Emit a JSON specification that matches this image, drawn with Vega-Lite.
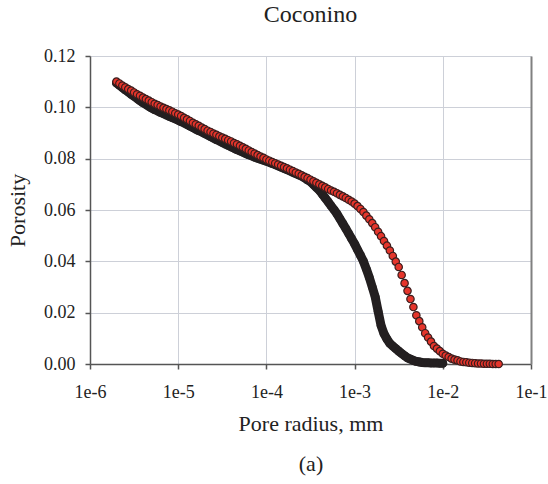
{
"$schema":"https://vega.github.io/schema/vega-lite/v6.json",
"autosize":"none",
"width":441,"height":308,
"padding":{"left":90,"top":56,"right":17,"bottom":120},
"background":"white",
"title":{"text":"Coconino","font":"Liberation Serif","fontSize":24,"fontWeight":"normal","color":"#222222","anchor":"middle","baseline":"alphabetic","offset":1},
"config":{"view":{"stroke":null},
"axis":{"labelFont":"Liberation Serif","labelFontSize":18,"labelColor":"#222222","titleFont":"Liberation Serif","titleFontSize":22,"titleFontWeight":"normal","titleColor":"#222222","domainColor":"#555555","domainWidth":1.5,"tickColor":"#555555","tickWidth":1.5,"tickSize":5,"gridColor":"#cdd0d8","gridWidth":1}},
"data":{"values":[
{"r":1.995e-6,"a":0.1095,"b":0.1100},{"r":2.154e-6,"a":0.1086,"b":0.1093},{"r":2.326e-6,"a":0.1077,"b":0.1085},{"r":2.512e-6,"a":0.1068,"b":0.1078},{"r":2.712e-6,"a":0.1060,"b":0.1071},{"r":2.929e-6,"a":0.1051,"b":0.1065},{"r":3.162e-6,"a":0.1043,"b":0.1058},{"r":3.415e-6,"a":0.1035,"b":0.1051},{"r":3.687e-6,"a":0.1026,"b":0.1045},{"r":3.981e-6,"a":0.1018,"b":0.1038},{"r":4.299e-6,"a":0.1011,"b":0.1032},{"r":4.642e-6,"a":0.1004,"b":0.1026},{"r":5.012e-6,"a":0.0997,"b":0.1020},{"r":5.412e-6,"a":0.0991,"b":0.1014},{"r":5.843e-6,"a":0.0986,"b":0.1009},{"r":6.310e-6,"a":0.0980,"b":0.1003},{"r":6.813e-6,"a":0.0975,"b":0.0998},{"r":7.356e-6,"a":0.0970,"b":0.0993},{"r":7.943e-6,"a":0.0965,"b":0.0988},{"r":8.577e-6,"a":0.0960,"b":0.0983},{"r":9.261e-6,"a":0.0955,"b":0.0977},
{"r":1.000e-5,"a":0.0950,"b":0.0972},{"r":1.080e-5,"a":0.0944,"b":0.0966},{"r":1.166e-5,"a":0.0939,"b":0.0959},{"r":1.259e-5,"a":0.0933,"b":0.0953},{"r":1.359e-5,"a":0.0927,"b":0.0947},{"r":1.468e-5,"a":0.0921,"b":0.0940},{"r":1.585e-5,"a":0.0915,"b":0.0934},{"r":1.711e-5,"a":0.0909,"b":0.0928},{"r":1.848e-5,"a":0.0904,"b":0.0921},{"r":1.995e-5,"a":0.0898,"b":0.0915},{"r":2.154e-5,"a":0.0892,"b":0.0909},{"r":2.326e-5,"a":0.0886,"b":0.0904},{"r":2.512e-5,"a":0.0880,"b":0.0898},{"r":2.712e-5,"a":0.0874,"b":0.0893},{"r":2.929e-5,"a":0.0869,"b":0.0887},{"r":3.162e-5,"a":0.0863,"b":0.0882},{"r":3.415e-5,"a":0.0857,"b":0.0877},{"r":3.687e-5,"a":0.0852,"b":0.0872},{"r":3.981e-5,"a":0.0846,"b":0.0867},{"r":4.299e-5,"a":0.0841,"b":0.0861},{"r":4.642e-5,"a":0.0835,"b":0.0856},{"r":5.012e-5,"a":0.0830,"b":0.0850},{"r":5.412e-5,"a":0.0825,"b":0.0844},{"r":5.843e-5,"a":0.0820,"b":0.0838},{"r":6.310e-5,"a":0.0815,"b":0.0832},{"r":6.813e-5,"a":0.0811,"b":0.0826},{"r":7.356e-5,"a":0.0806,"b":0.0820},{"r":7.943e-5,"a":0.0802,"b":0.0814},{"r":8.577e-5,"a":0.0798,"b":0.0808},{"r":9.261e-5,"a":0.0794,"b":0.0803},
{"r":1.000e-4,"a":0.0790,"b":0.0797},{"r":1.080e-4,"a":0.0786,"b":0.0792},{"r":1.166e-4,"a":0.0781,"b":0.0787},{"r":1.259e-4,"a":0.0777,"b":0.0782},{"r":1.359e-4,"a":0.0772,"b":0.0777},{"r":1.468e-4,"a":0.0767,"b":0.0772},{"r":1.585e-4,"a":0.0762,"b":0.0767},{"r":1.711e-4,"a":0.0757,"b":0.0762},{"r":1.848e-4,"a":0.0752,"b":0.0757},{"r":1.995e-4,"a":0.0747,"b":0.0752},{"r":2.154e-4,"a":0.0742,"b":0.0746},{"r":2.326e-4,"a":0.0737,"b":0.0741},{"r":2.512e-4,"a":0.0732,"b":0.0735},{"r":2.712e-4,"a":0.0725,"b":0.0729},{"r":2.929e-4,"a":0.0717,"b":0.0724},{"r":3.162e-4,"a":0.0710,"b":0.0718},{"r":3.415e-4,"a":0.0699,"b":0.0712},{"r":3.687e-4,"a":0.0688,"b":0.0706},{"r":3.981e-4,"a":0.0677,"b":0.0700},{"r":4.299e-4,"a":0.0662,"b":0.0694},{"r":4.642e-4,"a":0.0647,"b":0.0688},{"r":5.012e-4,"a":0.0632,"b":0.0682},{"r":5.412e-4,"a":0.0616,"b":0.0676},{"r":5.843e-4,"a":0.0601,"b":0.0671},{"r":6.310e-4,"a":0.0585,"b":0.0665},{"r":6.813e-4,"a":0.0566,"b":0.0659},{"r":7.356e-4,"a":0.0547,"b":0.0653},{"r":7.943e-4,"a":0.0528,"b":0.0647},{"r":8.577e-4,"a":0.0508,"b":0.0640},{"r":9.261e-4,"a":0.0488,"b":0.0633},
{"r":1.000e-3,"a":0.0468,"b":0.0625},{"r":1.080e-3,"a":0.0445,"b":0.0615},{"r":1.166e-3,"a":0.0423,"b":0.0604},{"r":1.259e-3,"a":0.0400,"b":0.0592},{"r":1.359e-3,"a":0.0370,"b":0.0578},{"r":1.468e-3,"a":0.0337,"b":0.0564},{"r":1.585e-3,"a":0.0300,"b":0.0549},{"r":1.711e-3,"a":0.0262,"b":0.0533},{"r":1.848e-3,"a":0.0205,"b":0.0515},{"r":1.995e-3,"a":0.0150,"b":0.0498},{"r":2.154e-3,"a":0.0118,"b":0.0479},{"r":2.326e-3,"a":0.0097,"b":0.0461},{"r":2.512e-3,"a":0.0080,"b":0.0442},{"r":2.712e-3,"a":0.0070,"b":0.0421},{"r":2.929e-3,"a":0.0060,"b":0.0399},{"r":3.162e-3,"a":0.0050,"b":0.0378},{"r":3.415e-3,"a":0.0041,"b":0.0347},{"r":3.687e-3,"a":0.0032,"b":0.0315},{"r":3.981e-3,"a":0.0024,"b":0.0285},{"r":4.299e-3,"a":0.0019,"b":0.0253},{"r":4.642e-3,"a":0.0014,"b":0.0222},{"r":5.012e-3,"a":0.0010,"b":0.0190},{"r":5.412e-3,"a":0.0008,"b":0.0167},{"r":5.843e-3,"a":0.0006,"b":0.0143},{"r":6.310e-3,"a":0.0005,"b":0.0120},{"r":6.813e-3,"a":0.0005,"b":0.0103},{"r":7.356e-3,"a":0.0004,"b":0.0087},{"r":7.943e-3,"a":0.0004,"b":0.0070},{"r":8.577e-3,"a":0.0004,"b":0.0060},{"r":9.261e-3,"a":0.0003,"b":0.0050},
{"r":1.000e-2,"a":0.0003,"b":0.0040},{"r":1.080e-2,"b":0.0033},{"r":1.166e-2,"b":0.0027},{"r":1.259e-2,"b":0.0021},{"r":1.359e-2,"b":0.0017},{"r":1.468e-2,"b":0.0014},{"r":1.585e-2,"b":0.0010},{"r":1.711e-2,"b":0.0008},{"r":1.848e-2,"b":0.0007},{"r":1.995e-2,"b":0.0005},{"r":2.154e-2,"b":0.0004},{"r":2.326e-2,"b":0.0003},{"r":2.512e-2,"b":0.0002},{"r":2.712e-2,"b":0.0002},{"r":2.929e-2,"b":0.0001},{"r":3.162e-2,"b":0.0001},{"r":3.415e-2,"b":0.0001},{"r":3.687e-2,"b":0},{"r":3.981e-2,"b":0},{"r":4.299e-2,"b":0}
]},
"encoding":{"x":{"field":"r","type":"quantitative","scale":{"type":"log","domain":[1e-6,0.1]},
"axis":{"values":[1e-6,1e-5,1e-4,1e-3,1e-2,1e-1],"labelExpr":"'1e' + round(log(datum.value)/LN10)","labelPadding":14,"labelFlush":false,"title":["Pore radius, mm","(a)"],"titlePadding":12,"titleLineHeight":40}}},
"layer":[
{"transform":[{"filter":"isValid(datum.a)"}],
 "mark":{"type":"line","color":"#231f20","strokeWidth":9,"strokeCap":"round","strokeJoin":"round"},
 "encoding":{"y":{"field":"a","type":"quantitative","scale":{"domain":[0,0.12]},
 "axis":{"values":[0,0.02,0.04,0.06,0.08,0.1,0.12],"format":".2f","labelPadding":10,"title":"Porosity","titlePadding":14}}}},
{"transform":[{"filter":"isValid(datum.a)"}],
 "mark":{"type":"point","filled":true,"color":"#231f20","size":75,"opacity":1},
 "encoding":{"y":{"field":"a","type":"quantitative","axis":null}}},
{"mark":{"type":"point","filled":true,"fill":"#e5352b","stroke":"#3a1e1e","strokeWidth":1.2,"size":55,"opacity":1},
 "encoding":{"y":{"field":"b","type":"quantitative","axis":{"orient":"right","labels":false,"ticks":false,"grid":false,"title":null,"domainColor":"#808080","domainWidth":2}}}}
],
"resolve":{"axis":{"y":"independent"}}
}
